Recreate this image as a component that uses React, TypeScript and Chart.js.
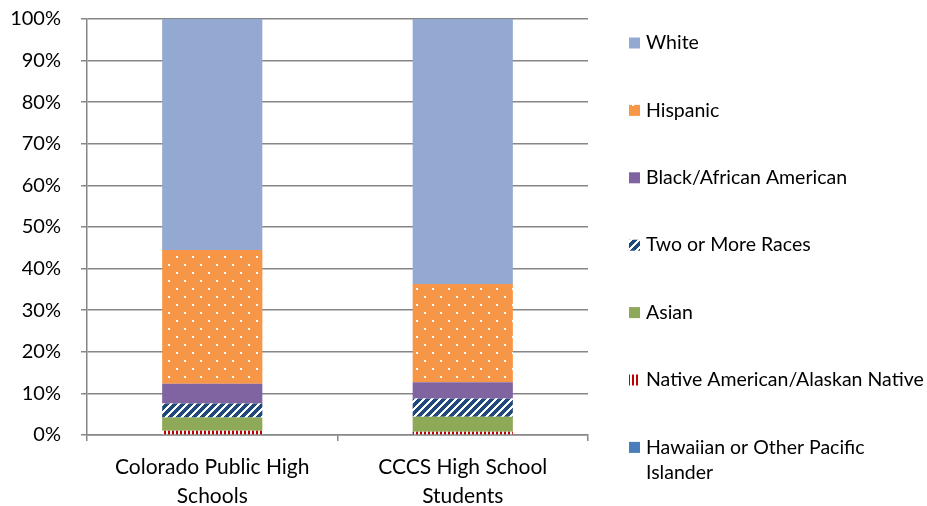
import React, { useEffect, useRef } from "react";
import { Chart, registerables } from "chart.js";

Chart.register(...registerables);

// Enrollment share by race/ethnicity (percent of students)
const categories = [
  ["Colorado Public High", "Schools"],
  ["CCCS High School", "Students"],
];

const seriesNames = [
  ["Hawaiian or Other Pacific", "Islander"],
  ["Native American/Alaskan Native"],
  ["Asian"],
  ["Two or More Races"],
  ["Black/African American"],
  ["Hispanic"],
  ["White"],
];

const hawaiian = [0.2, 0.2];
const nativeAmerican = [0.8, 0.6];
const asian = [3.2, 3.6];
const twoOrMore = [3.4, 4.4];
const black = [4.7, 3.9];
const hispanic = [32.2, 23.6];
const white = [55.5, 63.7];

const yTickValues = [0, 10, 20, 30, 40, 50, 60, 70, 80, 90, 100];

const FONT = "Lato, 'Open Sans', sans-serif";
const AXIS_GRAY = "#868686";

function makeTile(w: number, h: number, paint: (x: number, y: number) => string) {
  const c = document.createElement("canvas");
  c.width = w;
  c.height = h;
  const g = c.getContext("2d")!;
  for (let y = 0; y < h; y++) {
    for (let x = 0; x < w; x++) {
      g.fillStyle = paint(x, y);
      g.fillRect(x, y, 1, 1);
    }
  }
  return g.createPattern(c, "repeat")!;
}

// Legend drawn down the right-hand side, top entry = top segment
const sideLegend = {
  id: "sideLegend",
  afterDraw(chart: any) {
    const ctx = chart.ctx as CanvasRenderingContext2D;
    const ds = chart.data.datasets;
    ctx.save();
    ctx.font = `19.5px ${FONT}`;
    ctx.textBaseline = "middle";
    ctx.textAlign = "left";
    for (let i = 0; i < ds.length; i++) {
      const idx = ds.length - 1 - i;
      const yc = 43 + i * 67.4;
      ctx.fillStyle = ds[idx].backgroundColor;
      ctx.fillRect(629, yc - 5.5, 11, 11);
      ctx.fillStyle = "#000";
      seriesNames[idx].forEach((line, j) => {
        ctx.fillText(line, 646, yc + j * 25);
      });
    }
    ctx.restore();
  },
};

export default function App() {
  const ref = useRef<HTMLCanvasElement>(null);

  useEffect(() => {
    const canvas = ref.current;
    if (!canvas) return;

    // Fill patterns
    const dotted = makeTile(16, 16, (x, y) =>
      (x < 2 && y < 2) || (x >= 8 && x < 10 && y >= 8 && y < 10) ? "#ffffff" : "#F79646"
    );
    const diagonal = makeTile(8, 8, (x, y) => ((x + y) % 8 < 5 ? "#1F497D" : "#ffffff"));
    const vertical = makeTile(4, 1, (x) => (x < 2 ? "#C00000" : "#ffffff"));

    const fills = ["#4A7EBB", vertical, "#8EA957", diagonal, "#8064A2", dotted, "#94A9D1"];
    const values = [hawaiian, nativeAmerican, asian, twoOrMore, black, hispanic, white];

    const chart = new Chart(canvas, {
      type: "bar",
      data: {
        labels: categories as any,
        datasets: values.map((v, i) => ({
          label: seriesNames[i].join(" "),
          data: v,
          backgroundColor: fills[i] as any,
          borderWidth: 0,
          barPercentage: 0.4,
          categoryPercentage: 1.0,
        })),
      },
      options: {
        animation: false,
        responsive: false,
        maintainAspectRatio: false,
        layout: { padding: { top: 19, right: 339, left: 0, bottom: 0 } },
        plugins: {
          legend: { display: false },
          tooltip: { enabled: false },
        },
        scales: {
          x: {
            stacked: true,
            grid: {
              display: true,
              drawOnChartArea: false,
              drawTicks: true,
              tickLength: 6,
              color: AXIS_GRAY,
              lineWidth: 1.5,
              offset: true,
            },
            border: { color: AXIS_GRAY, width: 1.5 },
            ticks: {
              color: "#000",
              font: { family: FONT, size: 21, lineHeight: 1.38 },
              padding: 12,
              maxRotation: 0,
              autoSkip: false,
            },
            afterFit: (s: any) => {
              s.height = 71;
              s.paddingLeft = 0;
              s.paddingRight = 0;
            },
          },
          y: {
            stacked: true,
            min: 0,
            max: 100,
            afterBuildTicks: (s: any) => {
              s.ticks = yTickValues.map((value) => ({ value }));
            },
            ticks: {
              color: "#000",
              font: { family: FONT, size: 20 },
              padding: 20,
              callback: (v: any) => `${v}%`,
            },
            grid: { color: AXIS_GRAY, lineWidth: 1.5, tickLength: 6 },
            border: { color: AXIS_GRAY, width: 1.5 },
            afterFit: (s: any) => {
              s.width = 87;
              s.paddingTop = 0;
              s.paddingBottom = 0;
            },
          },
        },
      },
      plugins: [sideLegend],
    });

    return () => chart.destroy();
  }, []);

  return (
    <div style={{ position: "absolute", left: 0, top: 0, width: 927, height: 506, background: "#fff" }}>
      <canvas ref={ref} width={927} height={506} style={{ display: "block" }} />
    </div>
  );
}
